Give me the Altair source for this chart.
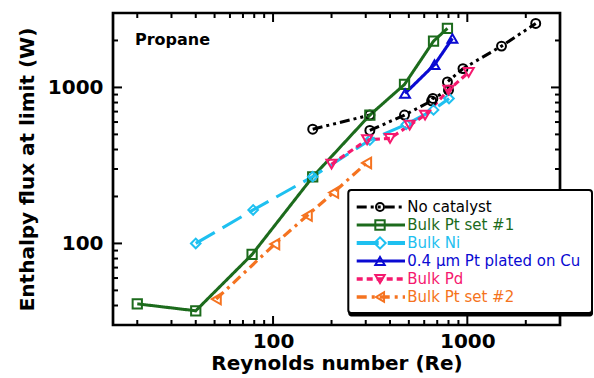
import altair as alt
import pandas as pd

# ---------------- data ----------------
series = ["No catalyst", "Bulk Pt set #1", "Bulk Ni", "0.4 µm Pt plated on Cu", "Bulk Pd", "Bulk Pt set #2"]
colors = ["#000000", "#1c6b1c", "#1ec0f0", "#0a0ad2", "#f5196e", "#f57320"]
shapes = ["circle", "square", "diamond", "triangle-up", "triangle-down", "triangle-left"]
dashes = [[10, 4, 3, 4, 3, 4], [1, 0], [22, 9], [1, 0], [6, 4], [10, 5, 3, 5]]
line_widths = [3, 3.2, 4, 3.2, 3.5, 3.5]
marker_sizes = [80, 110, 160, 110, 110, 110]

nocat_re_a = [160, 315]
nocat_q_a = [540, 665]
nocat_re_b = [315, 475, 655, 665, 800, 790, 950, 1500, 2250]
nocat_q_b = [530, 665, 820, 850, 960, 1085, 1320, 1840, 2570]
ptset1_re = [20, 40, 78, 160, 315, 475, 670, 790]
ptset1_q = [41, 37, 85, 267, 665, 1045, 1980, 2390]
ni_re = [40, 79, 160, 315, 485, 670, 805]
ni_q = [100, 164, 268, 460, 580, 718, 850]
ptcu_re = [478, 678, 838]
ptcu_q = [915, 1400, 2060]
pd_re = [200, 305, 400, 505, 606, 800, 1016]
pd_q = [322, 462, 471, 573, 665, 960, 1250]
ptset2_re = [51, 102, 150, 205, 303]
ptset2_q = [44, 99, 151, 212, 328]

x_major = [100, 1000]
x_minor = [20, 30, 40, 50, 60, 70, 80, 90, 200, 300, 400, 500, 600, 700, 800, 900, 2000]
y_major = [100, 1000]
y_minor = [40, 50, 60, 70, 80, 90, 200, 300, 400, 500, 600, 700, 800, 900, 2000]

x_title = "Reynolds number (Re)"
y_title = "Enthalpy flux at limit (W)"
label_text = "Propane"

# ---------------- table ----------------
groups = [
    (series[0], "a", nocat_re_a, nocat_q_a),
    (series[0], "b", nocat_re_b, nocat_q_b),
    (series[1], "a", ptset1_re, ptset1_q),
    (series[2], "a", ni_re, ni_q),
    (series[3], "a", ptcu_re, ptcu_q),
    (series[4], "a", pd_re, pd_q),
    (series[5], "a", ptset2_re, ptset2_q),
]
rows = []
for name, seg, xs, ys in groups:
    for k, (xv, yv) in enumerate(zip(xs, ys)):
        rows.append({"series": name, "seg": name + seg, "ord": k, "re": xv, "q": yv})
df = pd.DataFrame(rows)

W, H = 447, 312
xs_ = alt.Scale(type="log", domain=[15, 3000], nice=False)
ys_ = alt.Scale(type="log", domain=[30, 3000], nice=False)
x_axis = alt.Axis(values=x_major, format="d", title=x_title, ticks=False, domain=False,
                  grid=False, labelPadding=6, titlePadding=2)
y_axis = alt.Axis(values=y_major, format="d", title=y_title, ticks=False, domain=False,
                  grid=False, labelPadding=10, titlePadding=10)


def X(f):
    return alt.X(f, type="quantitative", scale=xs_, axis=x_axis)


def Y(f):
    return alt.Y(f, type="quantitative", scale=ys_, axis=y_axis)


cscale = alt.Scale(domain=series, range=colors)

lines = alt.Chart(df).mark_line().encode(
    x=X("re"), y=Y("q"),
    color=alt.Color("series:N", scale=cscale, legend=None),
    strokeDash=alt.StrokeDash("series:N", scale=alt.Scale(domain=series, range=dashes), legend=None),
    strokeWidth=alt.StrokeWidth("series:N", scale=alt.Scale(domain=series, range=line_widths), legend=None),
    detail="seg:N",
    order="ord:Q",
)

points = alt.Chart(df).mark_point(filled=False, strokeWidth=2, opacity=1).encode(
    x=X("re"), y=Y("q"),
    color=alt.Color("series:N", scale=cscale, legend=None),
    shape=alt.Shape("series:N", scale=alt.Scale(domain=series, range=shapes), legend=None),
    size=alt.Size("series:N", scale=alt.Scale(domain=series, range=marker_sizes), legend=None),
)

frame = alt.Chart(pd.DataFrame({"a": [0]})).mark_rect(filled=False, stroke="black", strokeWidth=2.7).encode(
    x=alt.value(0), x2=alt.value(W), y=alt.value(0), y2=alt.value(H)
)

tick_layers = []
for vals, L in [(x_major, 9), (x_minor, 5)]:
    d = pd.DataFrame({"v": vals})
    tick_layers.append(alt.Chart(d).mark_rule(color="black", strokeWidth=2).encode(
        x=X("v"), y=alt.value(H), y2=alt.value(H - L)))
    tick_layers.append(alt.Chart(d).mark_rule(color="black", strokeWidth=2).encode(
        x=X("v"), y=alt.value(0), y2=alt.value(L)))
for vals, L in [(y_major, 9), (y_minor, 5)]:
    d = pd.DataFrame({"v": vals})
    tick_layers.append(alt.Chart(d).mark_rule(color="black", strokeWidth=2).encode(
        y=Y("v"), x=alt.value(0), x2=alt.value(L)))
    tick_layers.append(alt.Chart(d).mark_rule(color="black", strokeWidth=2).encode(
        y=Y("v"), x=alt.value(W), x2=alt.value(W - L)))

one = pd.DataFrame({"a": [0]})
bx0, bx1, by0, by1 = 235.3, 479, 177, 300
shadow = alt.Chart(one).mark_rect(color="black", cornerRadius=3).encode(
    x=alt.value(bx0), x2=alt.value(bx1 + 1), y=alt.value(by0 + 3), y2=alt.value(by1 + 3.5))
box = alt.Chart(one).mark_rect(fill="white", stroke="black", strokeWidth=2, cornerRadius=3).encode(
    x=alt.value(bx0), x2=alt.value(bx1), y=alt.value(by0), y2=alt.value(by1))

leg_layers = []
for i, name in enumerate(series):
    ly = 194 + 18 * i
    d = pd.DataFrame({"name": [name]})
    leg_layers.append(alt.Chart(d).mark_rule(strokeDash=dashes[i], strokeWidth=line_widths[i],
                                             color=colors[i]).encode(
        x=alt.value(243.7), x2=alt.value(292), y=alt.value(ly)))
    leg_layers.append(alt.Chart(d).mark_point(shape=shapes[i], filled=False, strokeWidth=2,
                                              size=marker_sizes[i] * 0.8, color=colors[i], opacity=1).encode(
        x=alt.value(267), y=alt.value(ly)))
    leg_layers.append(alt.Chart(d).mark_text(align="left", baseline="middle", font="DejaVu Sans",
                                             fontSize=15, color=colors[i]).encode(
        x=alt.value(294.3), y=alt.value(ly), text="name:N"))

propane = alt.Chart(pd.DataFrame({"t": [label_text]})).mark_text(
    align="left", baseline="middle", font="DejaVu Sans", fontWeight="bold", fontSize=16, color="black"
).encode(x=alt.value(22), y=alt.value(27), text="t:N")

chart = alt.layer(
    lines, points, frame, *tick_layers, shadow, box, *leg_layers, propane
).properties(
    width=W, height=H,
    autosize=alt.AutoSizeParams(type="none"),
    padding={"left": 113, "top": 13, "right": 34, "bottom": 53},
).configure_view(stroke=None).configure_axis(
    labelFont="DejaVu Sans", labelFontWeight="bold", labelFontSize=20, labelColor="black",
    titleFont="DejaVu Sans", titleFontWeight="bold", titleFontSize=20, titleColor="black",
)

chart.save("out.html", embed_options={"renderer": "svg", "actions": False})
